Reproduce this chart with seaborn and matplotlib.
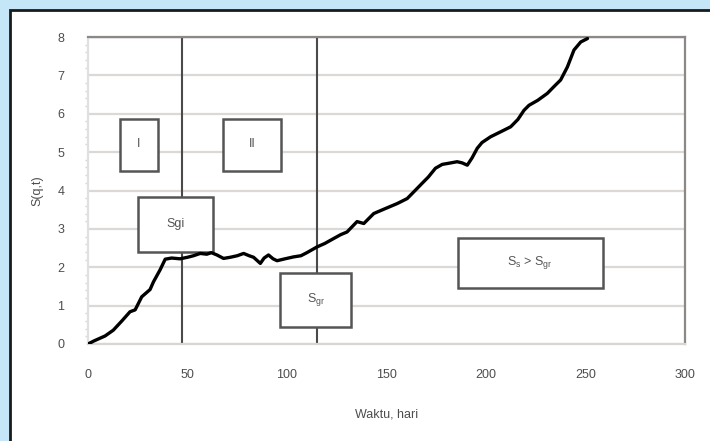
import matplotlib
matplotlib.use("Agg")
import matplotlib.pyplot as plt
import matplotlib.patches as mpatches
import seaborn as sns
import pandas as pd

# ---- data ----
days = [0, 3, 8.6, 12.7, 17, 21.1, 23.7, 27, 31.2, 32.9, 36.2, 38.8, 42, 46.3, 50, 53,
        56.4, 59.7, 62, 64.8, 68.1, 71.5, 75, 78.2, 81, 83.2, 86.6, 88.5, 90.7, 93, 95,
        99, 103.3, 107, 110, 115.1, 119, 123.5, 127, 130.2, 135.2, 138.6, 143.6, 149,
        155.4, 160.4, 164, 168.7, 171, 174.6, 178, 181.3, 185.5, 188, 190.6, 193, 195.6,
        198, 202.3, 207, 212.4, 216, 219.1, 221.6, 226, 230.8, 234, 237.5, 240.9, 244.2,
        247.6, 251]
s_values = [0, 0.08, 0.21, 0.36, 0.6, 0.84, 0.89, 1.23, 1.42, 1.62, 1.93, 2.21, 2.24,
            2.22, 2.26, 2.3, 2.36, 2.34, 2.38, 2.32, 2.23, 2.26, 2.3, 2.36, 2.3, 2.26,
            2.10, 2.24, 2.32, 2.22, 2.17, 2.22, 2.27, 2.3, 2.38, 2.53, 2.62, 2.75, 2.85,
            2.92, 3.19, 3.14, 3.40, 3.52, 3.66, 3.79, 3.98, 4.23, 4.35, 4.58, 4.68, 4.71,
            4.75, 4.72, 4.66, 4.85, 5.1, 5.25, 5.40, 5.52, 5.66, 5.85, 6.09, 6.22, 6.35,
            6.53, 6.7, 6.88, 7.22, 7.66, 7.87, 7.96]
x_ticks = [0, 50, 100, 150, 200, 250, 300]
y_ticks = [0, 1, 2, 3, 4, 5, 6, 7, 8]
boundary_days = [47, 115]
# annotation boxes: label, x0, x1, y0, y1
box_labels = ["I", "II", "Sgi", r"S$_\mathrm{gr}$", r"S$_\mathrm{s}$ > S$_\mathrm{gr}$"]
box_x0 = [16.1, 67.9, 25.2, 96.6, 185.7]
box_x1 = [35.2, 97.1, 62.9, 132.4, 258.7]
box_y0 = [4.5, 4.5, 2.40, 0.44, 1.46]
box_y1 = [5.86, 5.86, 3.83, 1.85, 2.76]

df = pd.DataFrame({"Waktu": days, "S": s_values})

sns.set_theme(style="white")
plt.rcParams["font.family"] = ["Liberation Sans", "DejaVu Sans"]
plt.rcParams["mathtext.fontset"] = "custom"
plt.rcParams["mathtext.rm"] = "Liberation Sans"

W, H = 710, 441
fig = plt.figure(figsize=(W / 100, H / 100), dpi=100)
fig.patch.set_facecolor("#c5e6f6")

# white panel with black border
panel = mpatches.Rectangle((10 / W, -0.2), 1.2, (H - 10) / H + 0.2,
                           transform=fig.transFigure, facecolor="white",
                           edgecolor="#1a1a1a", linewidth=2.0, zorder=0)
fig.patches.append(panel)

ax = fig.add_axes([88 / W, (H - 344) / H, (685 - 88) / W, (344 - 37) / H])
ax.set_facecolor("white")
ax.set_zorder(1)

gray_txt = "#4d4d4d"
for yv in y_ticks:
    ax.axhline(yv, color="#dcd8d5", lw=1.6, zorder=1)
ax.axhline(8, color="#8c8886", lw=1.6, zorder=1.5)

for xv in boundary_days:
    ax.axvline(xv, color="#4a4a4a", lw=1.5, zorder=2)

for lab, x0, x1, y0, y1 in zip(box_labels, box_x0, box_x1, box_y0, box_y1):
    r = mpatches.Rectangle((x0, y0), x1 - x0, y1 - y0, facecolor="white",
                           edgecolor="#555555", linewidth=1.8, zorder=3)
    ax.add_patch(r)
    ax.text((x0 + x1) / 2, (y0 + y1) / 2 + 0.02, lab, ha="center", va="center",
            fontsize=9, color="#555555", zorder=4)

sns.lineplot(data=df, x="Waktu", y="S", ax=ax, color="black", linewidth=2.4,
             zorder=5)

ax.set_xlim(0, 300)
ax.set_ylim(0, 8)
ax.set_xticks(x_ticks)
ax.set_yticks(y_ticks)
ax.set_xticklabels([str(v) for v in x_ticks], fontsize=9, color=gray_txt)
ax.set_yticklabels([str(v) for v in y_ticks], fontsize=9, color=gray_txt)
ax.set_yticks([i * 0.2 for i in range(41)], minor=True)
ax.tick_params(axis="x", which="major", length=3, color="#cfcfcf", pad=15,
               direction="out")
ax.tick_params(axis="y", which="major", length=0, pad=17)
ax.tick_params(axis="y", which="minor", length=2, color="#d6d6d6", direction="out",
               left=True)

for side in ["left", "bottom", "top", "right"]:
    ax.spines[side].set_visible(True)
ax.spines["left"].set_color("#e0e0e0")
ax.spines["bottom"].set_color("#d9d5d2")
ax.spines["top"].set_color("#8c8886")
ax.spines["right"].set_color("#8c8886")
for s in ax.spines.values():
    s.set_linewidth(1.6)

ax.set_xlabel("Waktu, hari", fontsize=9, color=gray_txt, labelpad=20)
ax.set_ylabel("S(q,t)", fontsize=9, color=gray_txt, labelpad=10)

fig.savefig("out.png", dpi=100, facecolor=fig.get_facecolor())
